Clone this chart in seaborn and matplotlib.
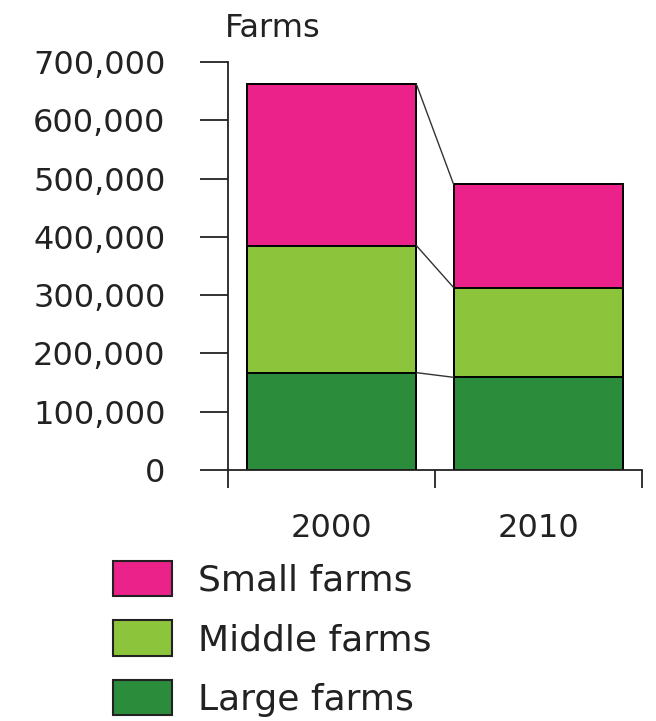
import pandas as pd
import matplotlib
matplotlib.use("Agg")
import matplotlib.pyplot as plt
import seaborn as sns
from matplotlib.patches import Patch

# values
years = ["2000", "2010"]
large_farms = [167000, 159000]
middle_farms = [218000, 154000]
small_farms = [277000, 177000]
series_names = ["Small farms", "Middle farms", "Large farms"]
y_ticks = [0, 100000, 200000, 300000, 400000, 500000, 600000, 700000]
y_tick_labels = ["0", "100,000", "200,000", "300,000", "400,000",
                 "500,000", "600,000", "700,000"]

colors = {"Small farms": "#ea2289", "Middle farms": "#8cc43c", "Large farms": "#2b8c3b"}

sns.set_theme(style="white")
plt.rcParams["font.family"] = ["DejaVu Sans"]
plt.rcParams["text.color"] = "#222222"

df = pd.DataFrame({"year": years, "Large farms": large_farms,
                   "Middle farms": middle_farms, "Small farms": small_farms})
df["large_middle"] = df["Large farms"] + df["Middle farms"]
df["total"] = df["large_middle"] + df["Small farms"]

fig = plt.figure(figsize=(6.56, 7.21), dpi=100)
ax = fig.add_axes([228 / 656, 251 / 721, 414 / 656, 408 / 721])

bar_w = 0.82
# stack by drawing the cumulative totals from the top down
for col, name in [("total", "Small farms"), ("large_middle", "Middle farms"),
                  ("Large farms", "Large farms")]:
    sns.barplot(data=df, x="year", y=col, color=colors[name], width=bar_w,
                edgecolor="black", linewidth=1.4, saturation=1,
                errorbar=None, ax=ax)

# connector lines between the segment tops
for col in ["Large farms", "large_middle", "total"]:
    ax.plot([bar_w / 2, 1 - bar_w / 2], df[col].values, color="#333333", lw=1.0)

ax.set_xlim(-0.5, 1.5)
ax.set_ylim(0, 700000)
ax.set_xlabel("")
ax.set_ylabel("")
sns.despine(ax=ax)
for s in ["left", "bottom"]:
    ax.spines[s].set_color("#222222")
    ax.spines[s].set_linewidth(1.3)

ax.set_yticks(y_ticks, y_tick_labels)
ax.tick_params(axis="y", left=True, length=20, width=1.3, pad=25,
               labelsize=23, colors="#222222", direction="out")
ax.set_xticks([0, 1], years)
ax.set_xticks([-0.5, 0.5, 1.5], minor=True)
ax.tick_params(axis="x", which="major", length=0, pad=31, labelsize=23,
               colors="#222222")
ax.tick_params(axis="x", which="minor", bottom=True, length=13, width=1.3,
               color="#222222", direction="out")

fig.text(225 / 656, 1 - 37 / 721, "Farms", fontsize=23, va="baseline",
         color="#222222")

handles = [Patch(facecolor=colors[n], edgecolor="#222222", linewidth=1.5, label=n)
           for n in series_names]
fig.legend(handles=handles, loc="upper left", bbox_to_anchor=(113 / 656, 1 - 561 / 721),
           frameon=False, fontsize=26, handlelength=1.64, handleheight=1.13,
           handletextpad=0.7, labelspacing=0.62, borderpad=0, borderaxespad=0)

fig.savefig("out.png", dpi=100)
